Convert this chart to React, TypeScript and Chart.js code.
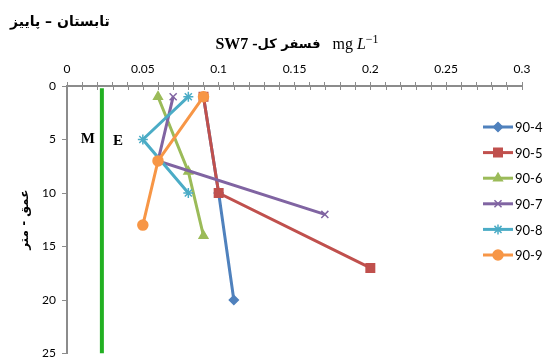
import React, { useEffect, useRef } from 'react';
import { Chart, registerables } from 'chart.js';
import { drawPoint } from 'chart.js/helpers';

Chart.register(...registerables);

// ---------- data ----------
const seasonTitle = 'تابستان – پاییز';
const yAxisTitle = 'عمق - متر';
const seriesNames = ['90-4', '90-5', '90-6', '90-7', '90-8', '90-9'];

const values904 = [0.09, 0.1, 0.11];
const depths904 = [1, 10, 20];
const values905 = [0.09, 0.1, 0.2];
const depths905 = [1, 10, 17];
const values906 = [0.06, 0.08, 0.09];
const depths906 = [1, 8, 14];
const values907 = [0.07, 0.06, 0.17];
const depths907 = [1, 7, 12];
const values908 = [0.08, 0.05, 0.08];
const depths908 = [1, 5, 10];
const values909 = [0.09, 0.06, 0.05];
const depths909 = [1, 7, 13];

const boundaryValues = [0.023, 0.023];
const boundaryDepths = [0.2, 25];

const xMin = 0;
const xMax = 0.3;
const yMin = 0;
const yMax = 25;

// ---------- styles ----------
const colors = ['#4F81BD', '#C0504D', '#9BBB59', '#8064A2', '#4BACC6', '#F79646'];
const pointStyles = ['rectRot', 'rect', 'triangle', 'crossRot', 'star', 'circle'];
const pointRadii = [4.5, 6, 5, 5, 5, 5];

const allValues = [values904, values905, values906, values907, values908, values909];
const allDepths = [depths904, depths905, depths906, depths907, depths908, depths909];

const toPoints = (xs: number[], ys: number[]) => xs.map((v, i) => ({ x: v, y: ys[i] }));

const overlayPlugin = {
  id: 'overlay',
  afterDraw(chart: any) {
    const ctx: CanvasRenderingContext2D = chart.ctx;
    const xs = chart.scales.x;
    const ys = chart.scales.y;
    const area = chart.chartArea;
    ctx.save();

    // inward part of x tick marks
    ctx.strokeStyle = '#8c8c8c';
    ctx.lineWidth = 1;
    for (let i = 0; i <= 30; i++) {
      const px = Math.round(xs.getPixelForValue(i / 100)) + 0.5;
      ctx.beginPath();
      ctx.moveTo(px, area.top);
      ctx.lineTo(px, area.top + 4);
      ctx.stroke();
    }

    // season title
    ctx.fillStyle = '#000';
    ctx.textBaseline = 'middle';
    ctx.textAlign = 'left';
    ctx.font = 'bold 14px "DejaVu Sans"';
    ctx.fillText(seasonTitle, 10, 22);

    // main title pieces
    const pieces = [
      { t: 'SW7 -', f: 'bold 16px "Liberation Serif"', dy: 0 },
      { t: 'فسفر کل', f: 'bold 13px "DejaVu Sans"', dy: 0 },
      { t: '   mg ', f: '16px "Liberation Serif"', dy: 0 },
      { t: 'L', f: 'italic 16px "Liberation Serif"', dy: 0 },
      { t: '−1', f: '12px "Liberation Serif"', dy: -5 },
    ];
    let total = 0;
    const widths = pieces.map((p) => {
      ctx.font = p.f;
      const w = ctx.measureText(p.t).width;
      total += w;
      return w;
    });
    let cx = 297 - total / 2;
    pieces.forEach((p, i) => {
      ctx.font = p.f;
      ctx.fillText(p.t, cx, 45 + p.dy);
      cx += widths[i];
    });

    // M / E labels around the boundary line
    ctx.font = 'bold 15px "Liberation Serif"';
    ctx.textAlign = 'center';
    const bx = xs.getPixelForValue(boundaryValues[0]);
    const by = ys.getPixelForValue(5);
    ctx.fillText('M', bx - 14, by);
    ctx.fillText('E', bx + 16, by + 2);

    // legend
    ctx.textAlign = 'left';
    ctx.font = '13px Lato';
    seriesNames.forEach((name, i) => {
      const ly = 127 + i * 25.6;
      ctx.strokeStyle = colors[i];
      ctx.fillStyle = colors[i];
      ctx.lineWidth = 3;
      ctx.beginPath();
      ctx.moveTo(483, ly);
      ctx.lineTo(513, ly);
      ctx.stroke();
      ctx.lineWidth = 1.5;
      drawPoint(ctx, { pointStyle: pointStyles[i], radius: pointRadii[i], rotation: 0, borderWidth: 1.5 } as any, 498, ly);
      ctx.fillStyle = '#000';
      ctx.fillText(name, 515, ly + 1);
    });

    ctx.restore();
  },
};

export default function App() {
  const ref = useRef<HTMLCanvasElement | null>(null);

  useEffect(() => {
    document.body.style.margin = '0';
    if (!ref.current) return;
    const datasets: any[] = seriesNames.map((name, i) => ({
      label: name,
      data: toPoints(allValues[i], allDepths[i]),
      showLine: true,
      order: 10 - i,
      borderColor: colors[i],
      backgroundColor: colors[i],
      borderWidth: 3,
      pointStyle: pointStyles[i],
      pointRadius: pointRadii[i],
      pointBorderWidth: 1.5,
      pointBorderColor: colors[i],
      pointBackgroundColor: colors[i],
    }));
    datasets.unshift({
      label: 'boundary',
      data: toPoints(boundaryValues, boundaryDepths),
      showLine: true,
      order: 100,
      borderColor: '#22B022',
      borderWidth: 4,
      pointRadius: 0,
    });

    const chart = new Chart(ref.current, {
      type: 'scatter',
      data: { datasets },
      plugins: [overlayPlugin],
      options: {
        animation: false,
        responsive: false,
        devicePixelRatio: 1,
        layout: { padding: { right: 25, bottom: 0, top: 0, left: 0 } },
        plugins: { legend: { display: false }, tooltip: { enabled: false }, title: { display: false } },
        scales: {
          x: {
            type: 'linear',
            position: 'top',
            min: xMin,
            max: xMax,
            afterFit: (s: any) => { s.height = 86; },
            afterBuildTicks: (s: any) => {
              const t = [];
              for (let i = 0; i <= 30; i++) t.push({ value: i / 100 });
              s.ticks = t;
            },
            ticks: {
              autoSkip: false,
              maxRotation: 0,
              padding: 6,
              color: '#000',
              font: { family: 'Lato', size: 12 },
              callback: (v: any) => {
                const n = Number(v);
                if (Math.abs(n * 20 - Math.round(n * 20)) < 1e-6) return String(Math.round(n * 100) / 100);
                return '';
              },
            },
            grid: { drawOnChartArea: false, drawTicks: true, tickLength: 4, color: '#8c8c8c', lineWidth: 1 },
            border: { display: true, color: '#8c8c8c', width: 2 },
          },
          y: {
            type: 'linear',
            reverse: true,
            min: yMin,
            max: yMax,
            afterFit: (s: any) => { s.width = 67; s.paddingBottom = 7; s.paddingTop = 0; },
            ticks: { stepSize: 5, padding: 6, color: '#000', font: { family: 'Lato', size: 12 } },
            grid: { drawOnChartArea: false, drawTicks: true, tickLength: 5, color: '#8c8c8c' },
            border: { display: true, color: '#8c8c8c', width: 2 },
            title: {
              display: true,
              text: yAxisTitle,
              color: '#000',
              font: { family: 'DejaVu Sans', size: 12, weight: 'bold' },
              padding: { top: 18, bottom: 0 },
            },
          },
        },
      } as any,
    });
    return () => chart.destroy();
  }, []);

  return (
    <div style={{ width: 547, height: 361 }}>
      <canvas ref={ref} width={547} height={361} style={{ display: 'block' }} />
    </div>
  );
}
